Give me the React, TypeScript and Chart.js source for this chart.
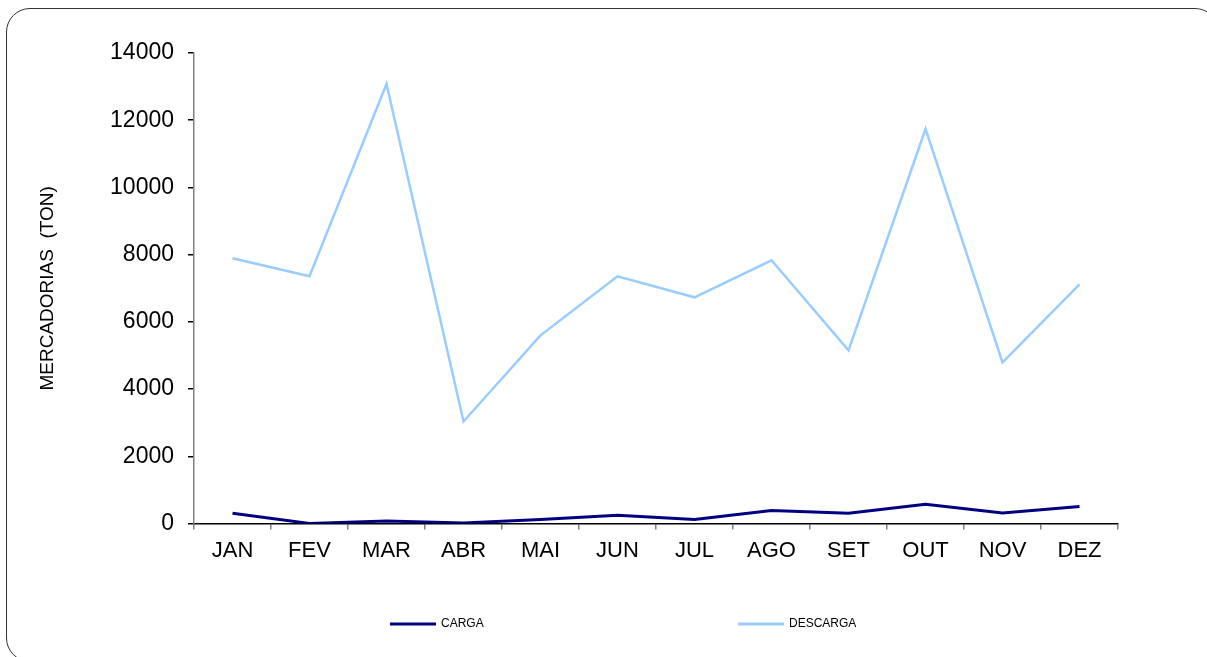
import React, { useEffect, useRef } from "react";
import { Chart, registerables } from "chart.js";

Chart.register(...registerables);

const categories = ["JAN", "FEV", "MAR", "ABR", "MAI", "JUN", "JUL", "AGO", "SET", "OUT", "NOV", "DEZ"];
const cargaValues = [305, 5, 80, 20, 120, 250, 120, 387, 307, 575, 318, 506];
const descargaValues = [7894, 7357, 13080, 3038, 5600, 7357, 6732, 7834, 5153, 11740, 4796, 7119];
const yTickValues = [0, 2000, 4000, 6000, 8000, 10000, 12000, 14000];
const yTitle = "MERCADORIAS  (TON)";

const FONT = "'Liberation Sans', Arial, sans-serif";

const legendPlugin = {
  id: "customLegend",
  afterDraw(chart: any) {
    const ctx = chart.ctx;
    const starts = [390, 738];
    const y = 624;
    chart.data.datasets.forEach((ds: any, i: number) => {
      const x0 = starts[i];
      ctx.save();
      ctx.strokeStyle = ds.borderColor;
      ctx.lineWidth = 3;
      ctx.beginPath();
      ctx.moveTo(x0, y);
      ctx.lineTo(x0 + 46, y);
      ctx.stroke();
      ctx.fillStyle = "#000";
      ctx.font = `12px ${FONT}`;
      ctx.textBaseline = "middle";
      ctx.textAlign = "left";
      ctx.fillText(ds.label, x0 + 51, y);
      ctx.restore();
    });
  },
};

export default function App() {
  const ref = useRef<HTMLCanvasElement | null>(null);
  useEffect(() => {
    if (!ref.current) return;
    const chart = new Chart(ref.current, {
      type: "line",
      data: {
        labels: categories,
        datasets: [
          {
            label: "CARGA",
            data: cargaValues,
            borderColor: "#000080",
            backgroundColor: "#000080",
            borderWidth: 3,
            pointRadius: 0,
            tension: 0,
          },
          {
            label: "DESCARGA",
            data: descargaValues,
            borderColor: "#99CCFF",
            backgroundColor: "#99CCFF",
            borderWidth: 2.5,
            pointRadius: 0,
            tension: 0,
          },
        ],
      },
      options: {
        responsive: false,
        animation: false,
        devicePixelRatio: 1,
        layout: { padding: { left: 0, top: 53, right: 89, bottom: 85 } },
        plugins: { legend: { display: false }, tooltip: { enabled: false } },
        scales: {
          x: {
            type: "category",
            offset: true,
            grid: { offset: true, drawOnChartArea: false, drawTicks: true, tickLength: 6, color: "#808080", lineWidth: 1.5 },
            border: { color: "#000", width: 1.5 },
            ticks: { color: "#000", font: { family: FONT, size: 22 }, padding: 8, maxRotation: 0, autoSkip: false },
          },
          y: {
            min: 0,
            max: 14000,
            afterBuildTicks: (scale: any) => {
              scale.ticks = yTickValues.map((v) => ({ value: v }));
            },
            afterFit: (scale: any) => {
              scale.width = 194;
            },
            grid: { drawOnChartArea: false, drawTicks: true, tickLength: 6, color: "#000", lineWidth: 1.5 },
            border: { color: "#808080", width: 1.5 },
            ticks: { color: "#000", font: { family: FONT, size: 23 }, padding: 14, callback: (v: any) => String(v) },
            title: { display: true, text: yTitle, color: "#000", font: { family: FONT, size: 19 }, padding: { top: 36, bottom: 0 } },
          },
        },
      },
      plugins: [legendPlugin],
    });
    return () => chart.destroy();
  }, []);

  return (
    <div style={{ position: "absolute", left: 0, top: 0, width: 1207, height: 657, overflow: "hidden", background: "#fff" }}>
      <div
        style={{
          position: "absolute",
          left: 6,
          top: 8,
          width: 1213,
          height: 654,
          border: "1.5px solid #333",
          borderRadius: 24,
          boxSizing: "border-box",
        }}
      />
      <canvas ref={ref} width={1207} height={657} style={{ position: "absolute", left: 0, top: 0, width: 1207, height: 657 }} />
    </div>
  );
}
